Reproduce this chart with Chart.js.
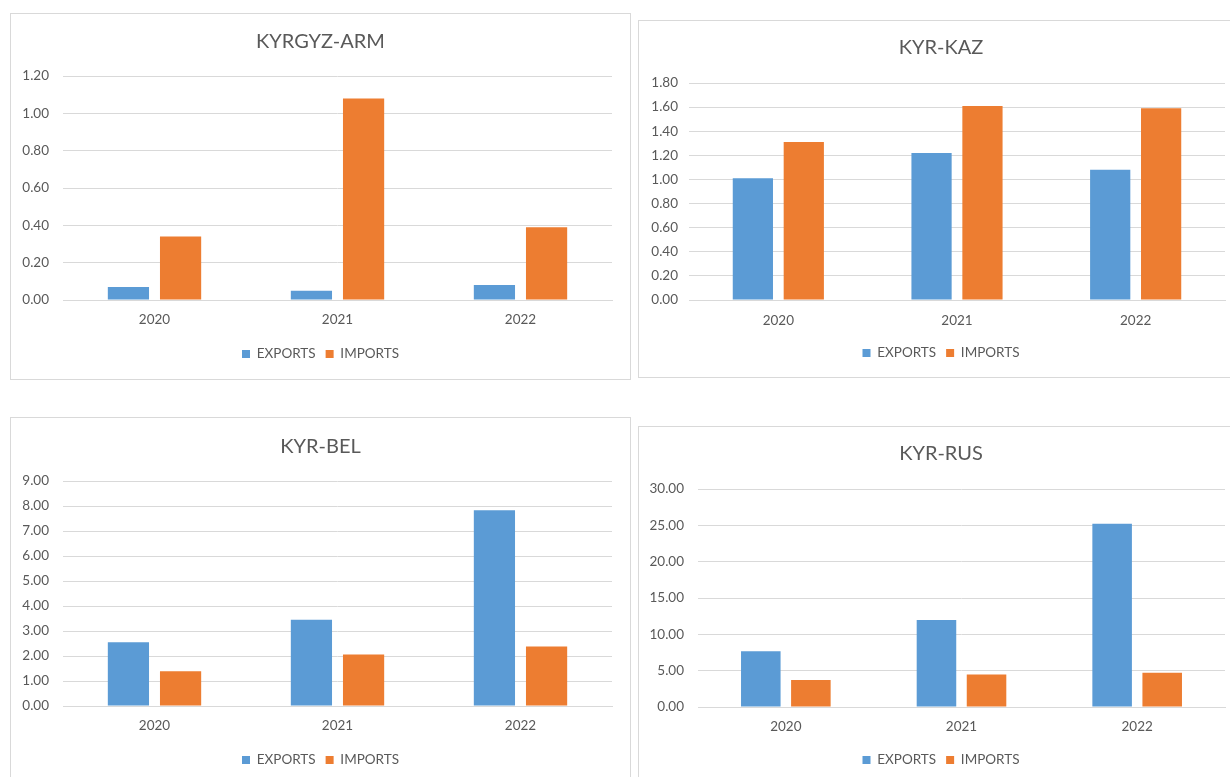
<!DOCTYPE html>
<html>
<head>
<meta charset="utf-8">
<script src="https://cdn.jsdelivr.net/npm/chart.js@4.4.1/dist/chart.umd.min.js"></script>
<style>
  html, body { margin: 0; padding: 0; background: #fff; }
  body { width: 1230px; height: 777px; overflow: hidden; position: relative; }
  .panel { position: absolute; border: 1px solid #d9d9d9; box-sizing: border-box; background: #fff; }
  .panel canvas { display: block; }
</style>
</head>
<body>
<div class="panel" style="left:10px;top:13px;width:621px;height:367px"><canvas id="arm" width="619" height="365"></canvas></div>
<div class="panel" style="left:638px;top:20px;width:606px;height:358px"><canvas id="kaz" width="604" height="356"></canvas></div>
<div class="panel" style="left:10px;top:417px;width:621px;height:369px"><canvas id="bel" width="619" height="367"></canvas></div>
<div class="panel" style="left:638px;top:426px;width:606px;height:359px"><canvas id="rus" width="604" height="357"></canvas></div>
<script>
const years = ['2020', '2021', '2022'];
const seriesNames = ['EXPORTS', 'IMPORTS'];

// values
const armExports = [0.07, 0.05, 0.08];
const armImports = [0.34, 1.08, 0.39];
const kazExports = [1.01, 1.22, 1.08];
const kazImports = [1.31, 1.61, 1.59];
const belExports = [2.55, 3.45, 7.83];
const belImports = [1.39, 2.06, 2.38];
const rusExports = [7.68, 11.98, 25.23];
const rusImports = [3.70, 4.48, 4.71];

// y axis: [max, step]
const armAxis = [1.2, 0.2];
const kazAxis = [1.8, 0.2];
const belAxis = [9, 1];
const rusAxis = [30, 5];

const textColor = '#595959';
const gridColor = '#d9d9d9';
const tickFont = { family: 'Lato', size: 13.5 };

function barChart(id, title, exportsData, importsData, axis, lay) {
    const ds = (label, data, color) => ({
        label: label,
        data: data,
        backgroundColor: color,
        categoryPercentage: 0.57,
        barPercentage: 0.79
    });
    return new Chart(document.getElementById(id), {
        type: 'bar',
        data: {
            labels: years,
            datasets: [
                ds(seriesNames[0], exportsData, '#5b9bd5'),
                ds(seriesNames[1], importsData, '#ed7d31')
            ]
        },
        options: {
            responsive: false,
            animation: false,
            layout: { padding: { bottom: lay.padBottom } },
            plugins: {
                title: {
                    display: true,
                    text: title,
                    color: textColor,
                    font: { family: 'Lato', size: 20, weight: 'normal' },
                    padding: { top: lay.titleTop - 0.6, bottom: lay.titleBottom - 0.6 }
                },
                legend: {
                    position: 'bottom',
                    labels: { boxWidth: 8, boxHeight: 8, padding: 10, color: textColor, font: tickFont }
                },
                tooltip: { enabled: false }
            },
            scales: {
                x: {
                    grid: { display: false, drawTicks: false },
                    border: { color: gridColor },
                    ticks: { color: textColor, font: tickFont, padding: lay.xPad },
                    afterFit: s => { s.height = lay.xHeight; }
                },
                y: {
                    min: 0,
                    max: axis[0],
                    grid: { color: gridColor, drawTicks: false },
                    border: { display: false },
                    ticks: {
                        stepSize: axis[1],
                        color: textColor,
                        font: tickFont,
                        padding: lay.yPad,
                        callback: v => Number(v).toFixed(2)
                    },
                    afterFit: s => { s.width = lay.yWidth; }
                },
                pad: {
                    position: 'right',
                    grid: { display: false },
                    border: { display: false },
                    ticks: { display: false },
                    afterFit: s => { s.width = lay.rightWidth; }
                }
            }
        }
    });
}

barChart('arm', 'KYRGYZ-ARM', armExports, armImports, armAxis,
    { titleTop: 16.6, titleBottom: 22.6, xPad: 12, xHeight: 37.25, padBottom: 8.25, yWidth: 52, yPad: 14, rightWidth: 18 });
barChart('kaz', 'KYR-KAZ', kazExports, kazImports, kazAxis,
    { titleTop: 15.6, titleBottom: 23.6, xPad: 13, xHeight: 36.25, padBottom: 7.25, yWidth: 50, yPad: 11, rightWidth: 18 });
barChart('bel', 'KYR-BEL', belExports, belImports, belAxis,
    { titleTop: 17.6, titleBottom: 22.6, xPad: 12, xHeight: 37.25, padBottom: 8.25, yWidth: 52, yPad: 14, rightWidth: 18 });
barChart('rus', 'KYR-RUS', rusExports, rusImports, rusAxis,
    { titleTop: 15.6, titleBottom: 23.6, xPad: 12, xHeight: 36.25, padBottom: 7.25, yWidth: 59, yPad: 14, rightWidth: 18 });
</script>
</body>
</html>
